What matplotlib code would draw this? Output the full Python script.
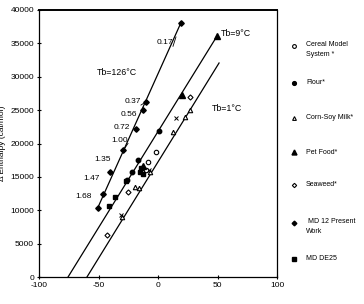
import matplotlib
matplotlib.use("Agg")
import matplotlib.pyplot as plt
from matplotlib.lines import Line2D

plt.rcParams['font.family'] = ['Liberation Sans', 'DejaVu Sans']

# ---- data ----
md12_x = [-50.7, -46, -40.3, -29, -18.5, -12.7, -10.5, 19.3]
md12_y = [10340, 12500, 15770, 19000, 22200, 25000, 26200, 38100]
md12_labels = ["1.68", "1.47", "1.35", "1.00", "0.72", "0.56", "0.37", "0.17"]

de25_x = [-41.2, -36.1, -26.9, -15, -13, -14]
de25_y = [10640, 11990, 14380, 15800, 15500, 16300]

flour_x = [-26.3, -22.1, -16.8, 1.1]
flour_y = [14530, 15770, 17530, 21920]

pet_x = [49.8, 19.9, -12.5]
pet_y = [36150, 27270, 16600]

seaweed_x = [-25.2, 26.9, -42.9]
seaweed_y = [12730, 27010, 6290]

cereal_x = [-8.4, -1.9, -10]
cereal_y = [17270, 18770, 16100]

cornsoy_x = [-19, -16, -7, 12.6, 22.7, 26.9, -30.5]
cornsoy_y = [13500, 13300, 15700, 21770, 23970, 25020, 9030]

other_x = [15.1, -7.6, -31]
other_y = [23820, 16030, 9300]

# fitted lines (end points)
line126_x = [-50.7, 19.3]
line126_y = [10340, 38100]
line9_x = [-75.6, 49.8]
line9_y = [0, 36150]
line1_x = [-59.7, 51.3]
line1_y = [0, 32060]

xticks = [-100, -50, 0, 50, 100]
yticks = list(range(0, 40001, 5000))

# ---- layout ----
fig = plt.figure(figsize=(3.64, 3.04), dpi=100)
ax = fig.add_axes([39/364, 1-277/304, (277-39)/364, (277-10)/304])

lw = 0.9
ax.plot(line126_x, line126_y, color='black', lw=lw)
ax.plot(line9_x, line9_y, color='black', lw=lw)
ax.plot(line1_x, line1_y, color='black', lw=lw)

ms = 3.2
styles = {
    'cereal': dict(marker='o', mfc='white', mec='black', ms=ms, mew=0.8),
    'flour': dict(marker='o', mfc='black', mec='black', ms=ms),
    'cornsoy': dict(marker='^', mfc='white', mec='black', ms=ms, mew=0.8),
    'pet': dict(marker='^', mfc='black', mec='black', ms=ms + 1),
    'seaweed': dict(marker='D', mfc='white', mec='black', ms=ms - 0.6, mew=0.8),
    'md12': dict(marker='D', mfc='black', mec='black', ms=ms - 0.4),
    'de25': dict(marker='s', mfc='black', mec='black', ms=ms),
}
ax.plot(cereal_x, cereal_y, ls='none', **styles['cereal'])
ax.plot(flour_x, flour_y, ls='none', **styles['flour'])
ax.plot(cornsoy_x, cornsoy_y, ls='none', **styles['cornsoy'])
ax.plot(pet_x, pet_y, ls='none', **styles['pet'])
ax.plot(seaweed_x, seaweed_y, ls='none', **styles['seaweed'])
ax.plot(md12_x, md12_y, ls='none', **styles['md12'])
ax.plot(de25_x, de25_y, ls='none', **styles['de25'])
ax.plot(other_x, other_y, ls='none', marker='x', color='black', ms=3, mew=0.7)

# MD12 labels
label_pos = [(-55.5, 11990), (-48.7, 14830), (-39.5, 17530), (-25.2, 20520),
             (-23.5, 22470), (-17.6, 24270), (-14.3, 26260), (12.6, 35060)]
for lab, (tx, ty) in zip(md12_labels, label_pos):
    ax.text(tx, ty, lab, ha='right', va='center', fontsize=6)
for i in [3, 6]:
    tx, ty = label_pos[i]
    ax.plot([tx, md12_x[i]], [ty - 500, md12_y[i]], color='black', lw=0.6)
tx, ty = label_pos[7]
ax.plot([tx, tx + 2.5], [ty - 500, ty + 900], color='black', lw=0.6)

ax.text(-51.3, 30700, "Tb=126°C", ha='left', va='center', fontsize=6.3)
ax.text(53, 36500, "Tb=9°C", ha='left', va='center', fontsize=6.3)
ax.text(45, 25300, "Tb=1°C", ha='left', va='center', fontsize=6.3)

ax.set_xlim(-100, 100)
ax.set_ylim(0, 40000)
ax.set_xticks(xticks)
ax.set_yticks(yticks)
ax.set_xticklabels([str(t) for t in xticks], fontsize=6)
ax.set_yticklabels([str(t) for t in yticks], fontsize=6)
ax.tick_params(direction='inout', length=3, width=0.8, pad=2)
for sp in ax.spines.values():
    sp.set_linewidth(0.9)
ax.spines['top'].set_linewidth(1.4)
ax.set_ylabel("Δ Enthalpy (cal/mol)", fontsize=6)
ax.yaxis.set_label_coords(-33/238, 0.5)

# legend drawn manually to match the spacing of the original
leg = [
    ('cereal', "Cereal Model\nSystem *", 46),
    ('flour', "Flour*", 83),
    ('cornsoy', "Corn-Soy Milk*", 118),
    ('pet', "Pet Food*", 152),
    ('seaweed', "Seaweed*", 185),
    ('md12', " MD 12 Present\nWork", 223),
    ('de25', "MD DE25", 259),
]
mx = 294 / 364
tx = 306 / 364
for key, text, py in leg:
    y = 1 - py / 304
    st = dict(styles[key])
    st['ms'] = st['ms'] * 0.85
    fig.add_artist(Line2D([mx], [y], transform=fig.transFigure, ls='none', **st))
    if "\n" in text:
        fig.text(tx, y + 5 / 304, text, fontsize=5, ha='left', va='top', linespacing=1.55)
    else:
        fig.text(tx, y, text, fontsize=5, ha='left', va='center')

fig.savefig("out.png", dpi=100)
